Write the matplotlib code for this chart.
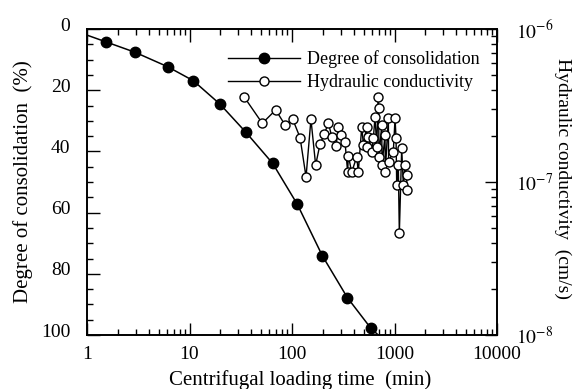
import matplotlib.pyplot as plt
import matplotlib.transforms as mtransforms
from matplotlib.ticker import MultipleLocator, FixedLocator, LogLocator, NullFormatter

plt.rcParams['font.family'] = ['Liberation Serif', 'DejaVu Serif']
plt.rcParams['mathtext.fontset'] = 'stix'

# degree of consolidation (filled circles)
t_cons = [1.53, 2.94, 6.1, 10.9, 19.9, 35.6, 64.7, 112.7, 197.6, 347, 588]
u_cons = [4.2, 7.6, 12.3, 16.9, 24.6, 33.8, 43.9, 57.3, 74.1, 87.8, 97.8]
# fitted curve through them
t_curve = [1.0, 1.53, 2.94, 6.1, 10.9, 19.9, 35.6, 64.7, 112.7, 197.6, 347, 588, 694]
u_curve = [2.0, 4.2, 7.6, 12.3, 16.9, 24.6, 33.8, 43.9, 57.3, 74.1, 87.8, 97.8, 100.0]

# hydraulic conductivity (open circles)
t_k = [34.0, 51.3, 69.3, 85.5, 101.6, 119.8, 137, 153, 170, 187.5, 206.6, 226, 244, 269,
       283, 300.6, 329, 349, 354, 382, 428, 443, 479, 497, 536, 540, 555, 599, 621, 646,
       670, 695, 700, 705, 750, 755, 808, 812, 871, 875, 973, 1012, 1035, 1050, 1089,
       1114, 1175, 1219, 1265, 1315, 1320]
k_val = [3.61e-7, 2.42e-7, 2.96e-7, 2.36e-7, 2.57e-7, 1.95e-7, 1.08e-7, 2.57e-7, 1.29e-7,
         1.77e-7, 2.05e-7, 2.44e-7, 1.98e-7, 1.72e-7, 2.30e-7, 2.03e-7, 1.82e-7, 1.16e-7,
         1.49e-7, 1.16e-7, 1.46e-7, 1.16e-7, 2.30e-7, 1.75e-7, 2.30e-7, 1.70e-7, 1.98e-7,
         1.58e-7, 1.93e-7, 2.67e-7, 1.70e-7, 3.61e-7, 3.06e-7, 1.46e-7, 2.36e-7, 1.29e-7,
         2.03e-7, 1.17e-7, 2.61e-7, 1.36e-7, 1.58e-7, 2.61e-7, 1.93e-7, 9.55e-8, 1.29e-7,
         4.62e-8, 1.66e-7, 9.55e-8, 1.29e-7, 1.11e-7, 8.87e-8]

fig = plt.figure(figsize=(5.74, 3.89), dpi=100)
ax = fig.add_axes([0.1516, 0.1388, 0.7143, 0.7866])
ax2 = ax.twinx()

# conductivity first, on the right axis
lk, = ax2.plot(t_k, k_val, '-o', color='black', lw=1.0, ms=6.5,
               mfc='white', mec='black', mew=1.0, label='Hydraulic conductivity')
ax2.set_yscale('log')
ax2.set_ylim(1e-8, 1e-6)
ax2.yaxis.set_major_locator(FixedLocator([1e-8, 1e-7, 1e-6]))
ax2.yaxis.set_minor_locator(LogLocator(base=10, subs=range(2, 10)))
ax2.yaxis.set_minor_formatter(NullFormatter())
ax2.set_yticklabels([r'$10^{-8}$', r'$10^{-7}$', r'$10^{-6}$'])
ax2.tick_params(axis='y', which='major', direction='in', length=9, width=1, labelsize=14, pad=14)
ax2.tick_params(axis='y', which='minor', direction='in', length=4.5, width=1)
# right label sits near the figure edge, a bit above the axis middle
fig.text(563 / 574, 1 - 179 / 389, 'Hydraulic conductivity  (cm/s)', fontsize=14,
         rotation=-90, ha='center', va='center')

# consolidation on the left axis, drawn above
ax.set_zorder(ax2.get_zorder() + 1)
ax.patch.set_visible(False)
ax.plot(t_curve, u_curve, '-', color='black', lw=1.1)
lc, = ax.plot(t_cons, u_cons, 'o', color='black', ms=7.5, label='Degree of consolidation')

ax.set_xscale('log')
ax.set_xlim(1, 10000)
ax.set_ylim(100, 0)
ax.xaxis.set_major_locator(FixedLocator([1, 10, 100, 1000, 10000]))
ax.set_xticklabels(['1', '10', '100', '1000', '10000'])
ax.xaxis.set_minor_locator(LogLocator(base=10, subs=range(2, 10)))
ax.xaxis.set_minor_formatter(NullFormatter())
ax.yaxis.set_major_locator(MultipleLocator(20))
ax.yaxis.set_minor_locator(MultipleLocator(5))
ax.tick_params(axis='both', which='major', direction='in', length=9, width=1, labelsize=14,
               top=True, right=False)
ax.tick_params(axis='both', which='minor', direction='in', length=4.5, width=1,
               top=True, right=False)
ax.tick_params(axis='x', pad=8)
ax.tick_params(axis='y', pad=12)

# the scanned y tick labels sit a little above their ticks
off = mtransforms.ScaledTranslation(0, 5 / 100, fig.dpi_scale_trans)
for lab in ax.get_yticklabels():
    lab.set_transform(lab.get_transform() + off)

ax.set_xlabel('Centrifugal loading time  (min)', fontsize=15, labelpad=0)
ax.xaxis.set_label_coords(0.52, -0.115)
ax.set_ylabel('Degree of consolidation  (%)', fontsize=15, labelpad=6)

for a in (ax, ax2):
    for s in a.spines.values():
        s.set_linewidth(1.2)

ax.legend([lc, lk], ['Degree of consolidation', 'Hydraulic conductivity'],
          loc='upper right', bbox_to_anchor=(0.985, 0.965), frameon=False,
          fontsize=13, handlelength=4.0, handletextpad=0.4, numpoints=1,
          labelspacing=0.3, borderaxespad=0.2)
# legend handle for consolidation needs a line through the marker
leg = ax.get_legend()
for h in leg.legend_handles:
    h.set_linestyle('-')
    h.set_linewidth(1.0)

fig.savefig('out.png', dpi=100)
